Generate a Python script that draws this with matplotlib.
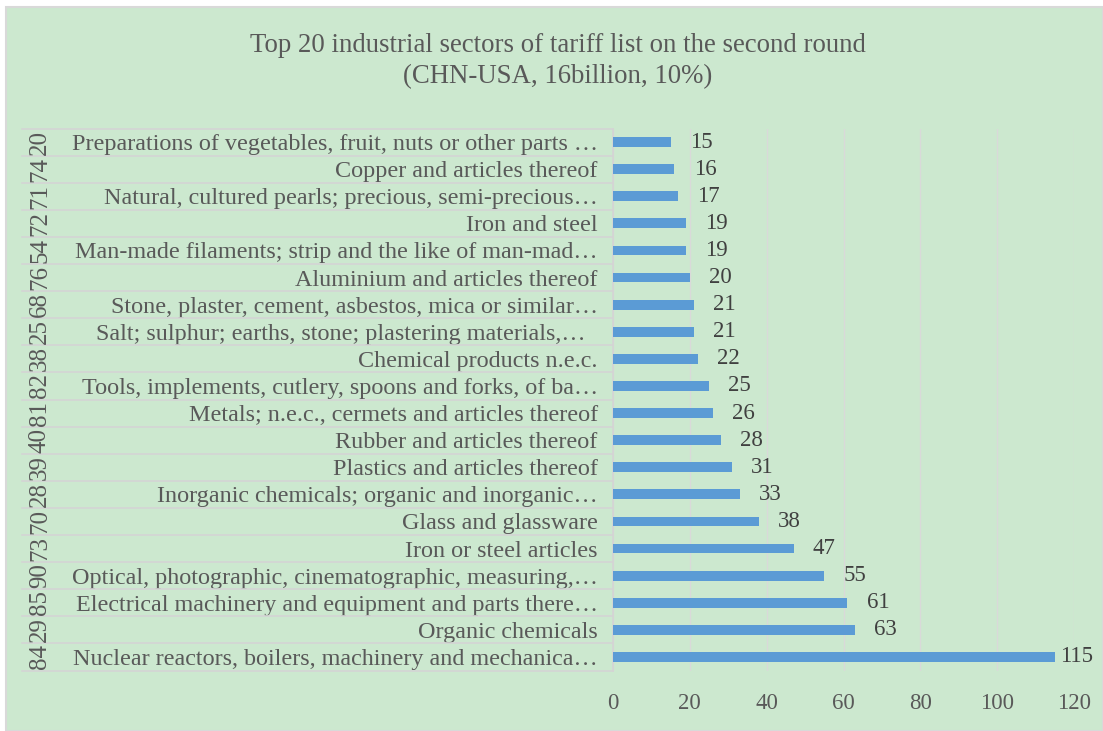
import matplotlib.pyplot as plt
import matplotlib.transforms as mtransforms
from matplotlib.patches import Rectangle
from matplotlib.lines import Line2D

# HS chapter codes and sector names, bottom row first
codes = ["84", "29", "85", "90", "73", "70", "28", "39", "40", "81",
         "82", "38", "25", "68", "76", "54", "72", "71", "74", "20"]
sectors = [
    "Nuclear reactors, boilers, machinery and mechanica…",
    "Organic chemicals",
    "Electrical machinery and equipment and parts there…",
    "Optical, photographic, cinematographic, measuring,…",
    "Iron or steel articles",
    "Glass and glassware",
    "Inorganic chemicals; organic and inorganic…",
    "Plastics and articles thereof",
    "Rubber and articles thereof",
    "Metals; n.e.c., cermets and articles thereof",
    "Tools, implements, cutlery, spoons and forks, of ba…",
    "Chemical products n.e.c.",
    "Salt; sulphur; earths, stone; plastering materials,…  ",
    "Stone, plaster, cement, asbestos, mica or similar…",
    "Aluminium and articles thereof",
    "Man-made filaments; strip and the like of man-mad…",
    "Iron and steel",
    "Natural, cultured pearls; precious, semi-precious…",
    "Copper and articles thereof",
    "Preparations of vegetables, fruit, nuts or other parts …",
]
counts = [115, 63, 61, 55, 47, 38, 33, 31, 28, 26,
          25, 22, 21, 21, 20, 19, 19, 17, 16, 15]
xticks = [0, 20, 40, 60, 80, 100, 120]

bg = "#CCE8CF"
txt = "#595959"
sep = "#D4D4D4"

plt.rcParams["font.family"] = ["Liberation Serif", "DejaVu Serif"]

W, H = 1103, 731
fig = plt.figure(figsize=(W / 100, H / 100), dpi=100)
fig.patch.set_facecolor("white")
fig.patches.append(Rectangle((6 / W, 0), 1 - 6 / W, 1 - 7 / H,
                             transform=fig.transFigure, facecolor=bg,
                             edgecolor="#D9D9D9", linewidth=1.5, zorder=-10))

ax = fig.add_axes([613 / W, 60.5 / H, 461 / W, 542 / H])
ax.set_facecolor("none")

ypos = list(range(len(counts)))
ax.barh(ypos, counts, height=0.36, color="#5B9BD5", zorder=3)

for y, v in zip(ypos, counts):
    ax.text(min(v + 5, 116.4), y, str(v), va="center", ha="left",
            fontsize=16.5, color="#404040", zorder=4)

ax.set_xlim(0, 120)
ax.set_ylim(-0.5, len(counts) - 0.5)
ax.set_xticks(xticks)
ax.set_xticklabels([str(t) for t in xticks], fontsize=16.5, color=txt)
ax.set_yticks(ypos)
ax.set_yticklabels(sectors, fontsize=17.4, color=txt)
ax.tick_params(axis="x", length=0, pad=16)
ax.tick_params(axis="y", length=0, pad=11)
ax.xaxis.grid(True, color="#D9D9D9", linewidth=1, zorder=0)

for s in ["top", "right", "bottom"]:
    ax.spines[s].set_visible(False)
ax.spines["left"].set_color(sep)
ax.spines["left"].set_linewidth(1.2)

# two-level category axis: separators and rotated chapter codes
trans = mtransforms.blended_transform_factory(fig.transFigure, ax.transData)
for k in range(len(counts) + 1):
    fig.add_artist(Line2D([22 / W, 613 / W], [k - 0.5, k - 0.5], transform=trans,
                          color=sep, linewidth=1.2))
for y, c in zip(ypos, codes):
    fig.text(40 / W, y, c, transform=trans, rotation=90, ha="center",
             va="center", fontsize=18, color=txt)

fig.text(558 / W, 1 - 45 / H, "Top 20 industrial sectors of tariff list on the second round",
         ha="center", va="center", fontsize=19.3, color=txt)
fig.text(558 / W, 1 - 77 / H, "(CHN-USA, 16billion, 10%)",
         ha="center", va="center", fontsize=19.3, color=txt)

fig.savefig("out.png", dpi=100, facecolor=fig.get_facecolor())
